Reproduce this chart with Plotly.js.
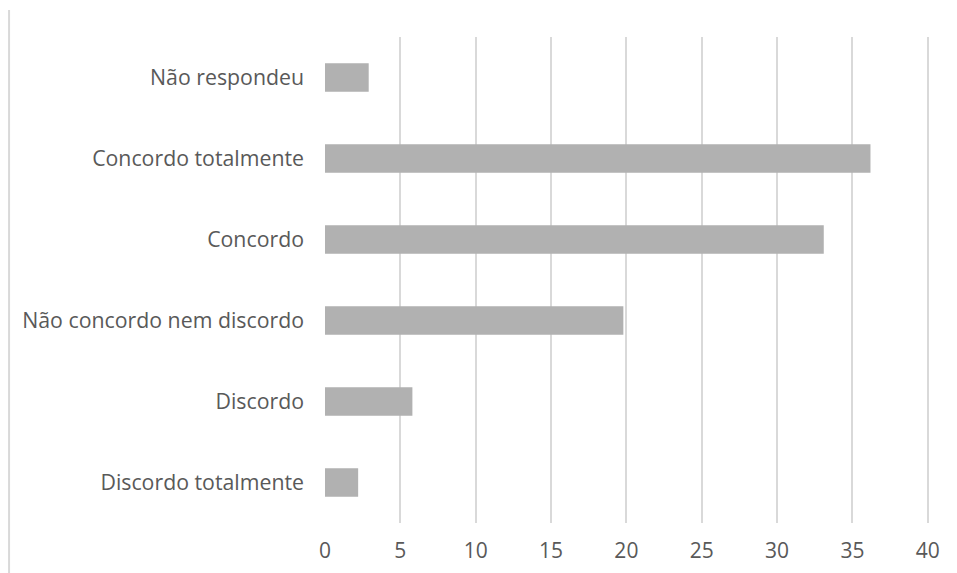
<!DOCTYPE html>
<html>
<head>
<meta charset="utf-8">
<script src="https://cdn.plot.ly/plotly-3.0.1.min.js"></script>
<style>html,body{margin:0;padding:0;background:#fff;}#chart{width:957px;height:573px;}</style>
</head>
<body>
<div id="chart"></div>
<script>
var categories = ["Discordo totalmente", "Discordo", "Não concordo nem discordo", "Concordo", "Concordo totalmente", "Não respondeu"];
var values = [2.2, 5.8, 19.8, 33.1, 36.2, 2.9];
var tickValues = [0, 5, 10, 15, 20, 25, 30, 35, 40];

var trace = {
  type: "bar",
  orientation: "h",
  y: categories,
  x: values,
  marker: {color: "#b1b1b1", line: {width: 0}},
  hoverinfo: "x+y"
};

var layout = {
  width: 957,
  height: 573,
  margin: {l: 325, r: 27, t: 37, b: 50},
  paper_bgcolor: "#ffffff",
  plot_bgcolor: "#ffffff",
  bargap: 0.65,
  showlegend: false,
  font: {family: "Open Sans, sans-serif", size: 21, color: "#595959"},
  xaxis: {
    range: [0, 40.15],
    tickvals: tickValues,
    ticktext: tickValues.map(String),
    showgrid: true,
    gridcolor: "#d9d9d9",
    gridwidth: 2,
    zeroline: false,
    showline: false,
    ticks: "",
    ticklabelstandoff: 13,
    tickfont: {size: 21, color: "#595959"},
    fixedrange: true
  },
  yaxis: {
    type: "category",
    categoryorder: "array",
    categoryarray: categories,
    showgrid: false,
    zeroline: false,
    showline: false,
    ticks: "",
    ticklabelstandoff: 20,
    tickfont: {size: 21.3, color: "#595959"},
    fixedrange: true
  },
  shapes: [{
    type: "line", xref: "paper", yref: "paper",
    x0: -0.5222, x1: -0.5222, y0: 1.0556, y1: -0.11,
    line: {color: "#d9d9d9", width: 2}
  }]
};

Plotly.newPlot("chart", [trace], layout, {displayModeBar: false, staticPlot: true});
</script>
</body>
</html>
